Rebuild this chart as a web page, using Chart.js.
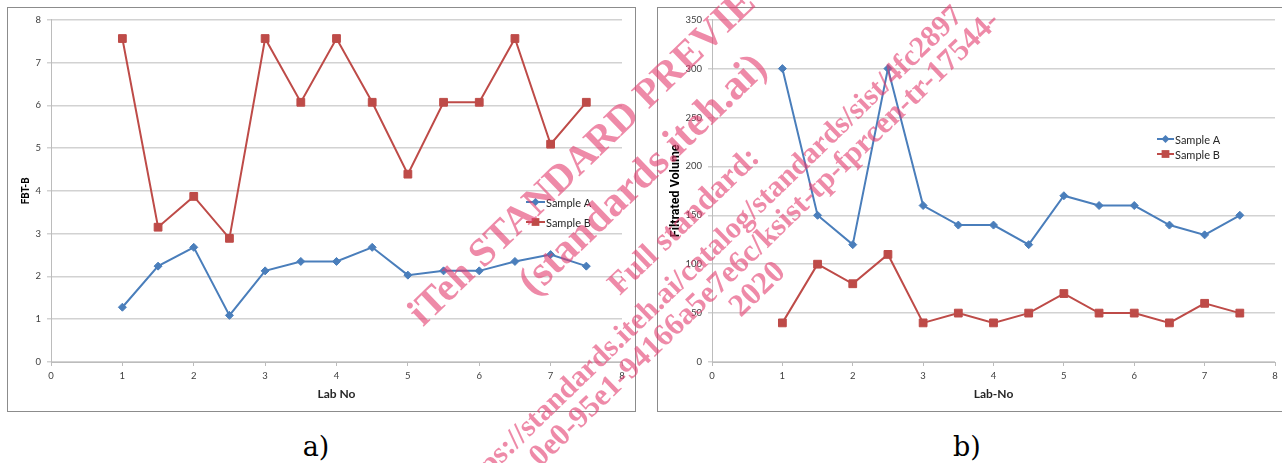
<!DOCTYPE html>
<html>
<head>
<meta charset="utf-8">
<script src="https://cdn.jsdelivr.net/npm/chart.js@4.4.1/dist/chart.umd.min.js"></script>
<style>
  html, body { margin: 0; padding: 0; background: #fff; }
  body { width: 1282px; height: 463px; position: relative; overflow: hidden; }
  .frame { position: absolute; top: 7px; height: 403px; border: 1px solid #8c8c8c; background: #fff; }
  #frameA { left: 7px; width: 627px; }
  #frameB { left: 657px; width: 640px; }
  .caption { position: absolute; top: 433px; font-family: "DejaVu Serif", serif; font-size: 27px; line-height: 27px; color: #000; transform: translateX(-50%); }
  .wm span { position: absolute; white-space: nowrap; font-family: "Liberation Serif", "Times New Roman", serif; font-weight: bold; line-height: 1; color: rgba(226, 60, 110, 0.6); transform-origin: 0 50%; transform: translateY(-50%) rotate(-44deg); pointer-events: none; }
</style>
</head>
<body>
<div class="frame" id="frameA"><canvas id="fbtChart" width="627" height="403"></canvas></div>
<div class="frame" id="frameB"><canvas id="volChart" width="640" height="403"></canvas></div>
<div class="caption" style="left:316px">a)</div>
<div class="caption" style="left:967px">b)</div>

<div class="wm">
  <span style="left:414px; top:318px; font-size:40px">iTeh STANDARD PREVIEW</span>
  <span style="left:524px; top:287px; font-size:42px">(standards.iteh.ai)</span>
  <span style="left:612px; top:288px; font-size:32px">Full standard:</span>
  <span style="left:456px; top:494px; font-size:30px">https://standards.iteh.ai/catalog/standards/sist/4fc2897</span>
  <span style="left:533px; top:460px; font-size:31px">0e0-95e1-94166a5e7e6c/ksist-tp-fprcen-tr-17544-</span>
  <span style="left:733px; top:310px; font-size:32px">2020</span>
</div>

<script>
// values
const labNo = [1, 1.5, 2, 2.5, 3, 3.5, 4, 4.5, 5, 5.5, 6, 6.5, 7, 7.5];
const fbtA = [1.28, 2.24, 2.68, 1.09, 2.13, 2.35, 2.35, 2.68, 2.03, 2.13, 2.13, 2.35, 2.51, 2.24];
const fbtB = [7.56, 3.15, 3.87, 2.89, 7.56, 6.07, 7.56, 6.07, 4.39, 6.07, 6.07, 7.56, 5.09, 6.07];
const volA = [300, 150, 120, 300, 160, 140, 140, 120, 170, 160, 160, 140, 130, 150];
const volB = [40, 100, 80, 110, 40, 50, 40, 50, 70, 50, 50, 40, 60, 50];
const seriesNames = ['Sample A', 'Sample B'];

const blue = '#4A7EBB';
const red = '#BE4B48';
const tickColor = '#404040';
const gridColor = '#d2d2d2';
const axisColor = '#bcbcbc';

// draws a marker the way the legend needs it
function drawMarker(ctx, style, x, y, r, color) {
    ctx.fillStyle = color;
    ctx.beginPath();
    if (style === 'rectRot') {
        ctx.moveTo(x, y - r);
        ctx.lineTo(x + r, y);
        ctx.lineTo(x, y + r);
        ctx.lineTo(x - r, y);
        ctx.closePath();
    } else {
        const s = r * Math.SQRT1_2;
        ctx.rect(x - s, y - s, 2 * s, 2 * s);
    }
    ctx.fill();
}

// Excel-style legend placed to the right inside the plot
const sideLegend = {
    id: 'sideLegend',
    afterDraw(chart, args, o) {
        const ctx = chart.ctx;
        ctx.save();
        ctx.font = '11px Lato';
        ctx.textBaseline = 'middle';
        ctx.textAlign = 'left';
        chart.data.datasets.forEach((ds, i) => {
            const y = o.y + i * o.gap;
            ctx.strokeStyle = ds.borderColor;
            ctx.lineWidth = 2;
            ctx.beginPath();
            ctx.moveTo(o.x, y);
            ctx.lineTo(o.x + o.len, y);
            ctx.stroke();
            drawMarker(ctx, ds.pointStyle, o.x + o.len / 2, y, ds.pointRadius, ds.borderColor);
            ctx.fillStyle = '#262626';
            ctx.fillText(ds.label, o.x + o.len + 1, y + 1);
        });
        ctx.restore();
    }
};

function series(label, values, color, style, radius) {
    return {
        label: label,
        data: labNo.map((x, i) => ({ x: x, y: values[i] })),
        borderColor: color,
        backgroundColor: color,
        borderWidth: 2,
        pointStyle: style,
        pointRadius: radius,
        pointBorderWidth: 1,
        pointBackgroundColor: color,
        tension: 0,
        fill: false
    };
}

function makeChart(id, cfg) {
    new Chart(document.getElementById(id).getContext('2d'), {
        type: 'line',
        data: {
            datasets: [
                series(seriesNames[0], cfg.a, blue, 'rectRot', 4),
                series(seriesNames[1], cfg.b, red, 'rect', 5.5)
            ]
        },
        plugins: [sideLegend],
        options: {
            responsive: false,
            animation: false,
            devicePixelRatio: 1,
            layout: { padding: { left: cfg.padLeft, top: 9, right: cfg.padRight, bottom: 0 } },
            scales: {
                x: {
                    type: 'linear',
                    min: 0,
                    max: 8,
                    ticks: { stepSize: 1, color: tickColor, font: { family: 'Lato', size: 9.5 }, padding: 4, maxRotation: 0 },
                    grid: { drawOnChartArea: false, drawTicks: true, tickLength: 4, color: axisColor },
                    border: { color: axisColor },
                    title: {
                        display: true,
                        text: cfg.xTitle,
                        color: '#262626',
                        font: { family: 'Lato', size: 12, weight: 'bold' },
                        padding: { top: 0, bottom: 10 }
                    },
                    afterFit: s => { s.height = 49; }
                },
                y: {
                    min: 0,
                    max: cfg.yMax,
                    ticks: { stepSize: cfg.yStep, color: tickColor, font: { family: 'Lato', size: 9.5 }, padding: 6 },
                    grid: { color: gridColor, lineWidth: 1.5, tickLength: 4 },
                    border: { color: axisColor, width: 1 },
                    title: {
                        display: true,
                        text: cfg.yTitle,
                        color: '#000',
                        font: { family: 'Roboto', size: cfg.yTitleSize, weight: 'bold' },
                        padding: { top: 4, bottom: 4 }
                    },
                    afterFit: s => { s.width = cfg.yWidth; }
                }
            },
            plugins: {
                legend: { display: false },
                tooltip: { enabled: false },
                sideLegend: cfg.legend
            }
        }
    });
}

document.addEventListener('DOMContentLoaded', () => {
    // a) FBT-B
    makeChart('fbtChart', {
        a: fbtA, b: fbtB,
        yMax: 8, yStep: 1, yTitleSize: 10,
        padLeft: 8, yWidth: 35, padRight: 13,
        xTitle: 'Lab No', yTitle: 'FBT-B',
        legend: { x: 518, y: 194, gap: 20, len: 19 }
    });

    // b) Filtrated volume
    makeChart('volChart', {
        a: volA, b: volB,
        yMax: 350, yStep: 50, yTitleSize: 12.5,
        padLeft: 6, yWidth: 48, padRight: 23,
        xTitle: 'Lab-No', yTitle: 'Filtrated Volume',
        legend: { x: 499, y: 131, gap: 15, len: 17 }
    });
});
</script>
</body>
</html>
